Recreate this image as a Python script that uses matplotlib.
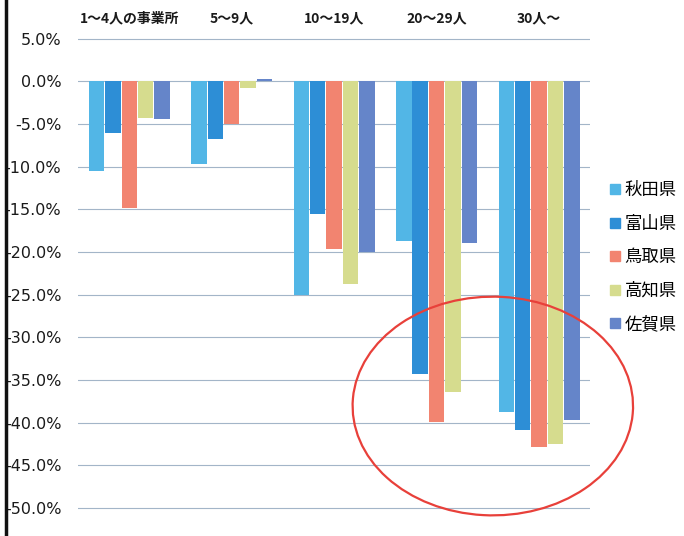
import matplotlib
matplotlib.use("Agg")
import matplotlib.pyplot as plt
from matplotlib.patches import Ellipse
from matplotlib.lines import Line2D
import numpy as np

plt.rcParams["font.family"] = ["Noto Sans CJK JP", "DejaVu Sans"]

# 事業所規模別の増減率 (%)
categories = ["1～4人の事業所", "5～9人", "10～19人", "20～29人", "30人～"]
prefectures = ["秋田県", "富山県", "鳥取県", "高知県", "佐賀県"]
akita = [-10.5, -9.7, -25.0, -18.7, -38.7]
toyama = [-6.0, -6.8, -15.5, -34.3, -40.8]
tottori = [-14.8, -5.0, -19.6, -39.9, -42.8]
kochi = [-4.3, -0.8, -23.7, -36.4, -42.5]
saga = [-4.4, 0.3, -20.0, -18.9, -39.7]
series = [akita, toyama, tottori, kochi, saga]
colors = ["#52b6e6", "#2d8ed6", "#f28470", "#d6dc8e", "#6585c9"]
y_ticks = np.arange(5, -55, -5)

fig = plt.figure(figsize=(6.84, 5.36), dpi=100)
ax = fig.add_axes([0.114, 0.0474, 0.749, 0.885])

x = np.arange(len(categories))
slot = 0.16
for i, (vals, col) in enumerate(zip(series, colors)):
    ax.bar(x + (i - 2) * slot, vals, width=slot * 0.94, color=col,
           label=prefectures[i], zorder=3)

ax.set_xlim(-0.5, len(categories) - 0.5)
ax.set_ylim(-50.3, 5.3)
ax.set_yticks(y_ticks)
ax.set_yticklabels([f"{v:.1f}%" for v in y_ticks], fontsize=11.5,
                   family=["DejaVu Sans"], color="#1a1a1a")
ax.yaxis.grid(True, color="#a3b5c8", linewidth=0.8, zorder=0)
ax.tick_params(axis="y", length=0, pad=12)

ax.xaxis.tick_top()
ax.set_xticks(x)
ax.set_xticklabels(categories, fontsize=10, fontweight="bold", color="#1a1a1a")
ax.tick_params(axis="x", length=0, pad=8)

for side in ax.spines.values():
    side.set_visible(False)

# 凡例
handles = [Line2D([0], [0], marker="s", linestyle="none", markersize=7,
                  markerfacecolor=c, markeredgecolor=c) for c in colors]
fig.legend(handles, prefectures, loc="center left",
           bbox_to_anchor=(0.866, 0.52), frameon=False, fontsize=12.5,
           handletextpad=0.15, labelspacing=0.9, handlelength=0.8)

# 左端の縦線
fig.add_artist(Line2D([0.009, 0.009], [0, 1], transform=fig.transFigure,
                      color="#111111", linewidth=2.5))

# 30人以上の減少を囲む楕円
fig.add_artist(Ellipse((0.7205, 0.2425), 0.410, 0.408, angle=-4,
                       transform=fig.transFigure, fill=False,
                       edgecolor="#e8403a", linewidth=1.6, zorder=5))

fig.savefig("out.png", dpi=100, facecolor="white")
